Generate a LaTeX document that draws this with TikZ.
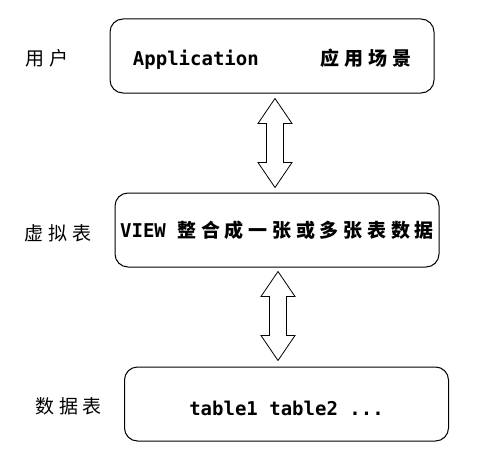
\documentclass[tikz,border=0pt]{standalone}
\usepackage{fontspec}
\setmonofont{DejaVu Sans Mono}
\newfontfamily\cjk[LetterSpace=25]{Noto Sans CJK SC}
\usetikzlibrary{positioning, calc}

% hollow double arrow between two named points
\newcommand{\dblarrow}[2]{%
  \draw[hollow] (#1) -- ($(#1)+(17,25)$) -- ($(#1)+(8.5,25)$) -- ($(#2)+(8.5,-25)$)
    -- ($(#2)+(17,-25)$) -- (#2) -- ($(#2)+(-17,-25)$) -- ($(#2)+(-8.5,-25)$)
    -- ($(#1)+(-8.5,25)$) -- ($(#1)+(-17,25)$) -- cycle;}

\begin{document}
\begin{tikzpicture}[
  x=1pt, y=-1pt,
  node distance=99pt,
  layer/.style={rectangle, rounded corners=13pt, draw, line width=1pt,
                minimum width=324pt, minimum height=74pt, inner sep=0pt,
                font=\fontsize{19}{22}\selectfont\ttfamily\bfseries},
  tag/.style={inner sep=0pt, font=\fontsize{19}{22}\selectfont\cjk},
  hollow/.style={draw, line width=0.8pt, fill=white}
]
  \useasboundingbox (0,0) rectangle (482,460);

  \node[layer] (app) at (272,56) {\rule{0pt}{23pt}Application\hspace{62pt}{\cjk\bfseries 应用场景}};
  \node[layer, below=of app, xshift=5pt] (view) {VIEW {\cjk\bfseries 整合成一张或多张表数据}};
  \node[layer, below=of view, xshift=9.5pt] (tables) {\rule{0pt}{23pt}table1 table2 ...};

  \node[tag, left=41pt of app, yshift=-2pt] (user) {用户};
  \node[tag, left=23pt of view, yshift=-3.5pt] (virt) {虚拟表};
  \node[tag, left=22pt of tables, yshift=-2pt] (data) {数据表};

  \coordinate (t1) at ($(app.south)+(3,5)$);
  \coordinate (b1) at ($(view.north)+(-2,-5)$);
  \coordinate (t2) at ($(view.south)+(1,4)$);
  \coordinate (b2) at ($(tables.north)+(-8.5,-6)$);

  \dblarrow{t1}{b1}
  \dblarrow{t2}{b2}
\end{tikzpicture}
\end{document}
